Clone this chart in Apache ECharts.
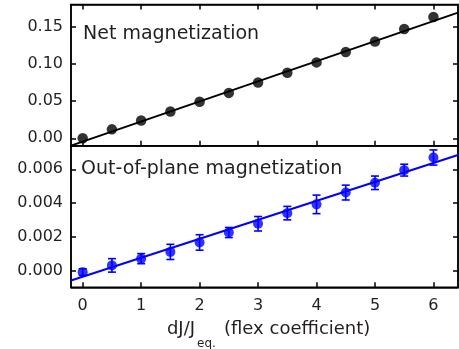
<!DOCTYPE html>
<html>
<head>
<meta charset="utf-8">
<script src="https://cdn.jsdelivr.net/npm/echarts@6/dist/echarts.min.js"></script>
<style>html,body{margin:0;padding:0;background:#fff}#c{width:459px;height:349px}</style>
</head>
<body>
<div id="c"></div>
<script>
// ---- data ----
var xValues = [0, 0.5, 1, 1.5, 2, 2.5, 3, 3.5, 4, 4.5, 5, 5.5, 6];
var netMag = [0, 0.012, 0.024, 0.036, 0.049, 0.061, 0.075, 0.088, 0.102, 0.116, 0.130, 0.147, 0.163];
var oopMag = [-0.0001, 0.0003, 0.0007, 0.0011, 0.00166, 0.00225, 0.00277, 0.0034, 0.00392, 0.00462, 0.0052, 0.00595, 0.0067];
var oopErr = [0.0002, 0.0004, 0.0003, 0.00045, 0.00046, 0.0003, 0.00043, 0.0004, 0.00055, 0.00044, 0.0004, 0.00035, 0.00045];
var netFitX = [-0.2, 6.42];
var netFitY = [-0.0099, 0.169];
var oopFitX = [-0.2, 6.42];
var oopFitY = [-0.0006, 0.00685];
var xTicks = [0, 1, 2, 3, 4, 5, 6];
var netTicks = [0, 0.05, 0.10, 0.15];
var oopTicks = [0, 0.002, 0.004, 0.006];
var topLabel = 'Net magnetization';
var bottomLabel = 'Out-of-plane magnetization';
var xTitleMain = 'dJ/J';
var xTitleSub = 'eq.';
var xTitleRest = '(flex coefficient)';

var FONT = 'DejaVu Sans';
var TXT = '#231f20';
var BLUE = '#0000ff';

function pairs(xs, ys) { return xs.map(function (x, i) { return [x, ys[i]]; }); }

var lineStyleAxis = { color: '#000', width: 1.5 };
function xAx(grid, pos, labels) {
  return {
    type: 'value', gridIndex: grid, position: pos, min: -0.2, max: 6.42,
    axisLine: { show: true, onZero: false, lineStyle: lineStyleAxis },
    axisTick: { show: true, inside: true, length: 5, lineStyle: lineStyleAxis, customValues: xTicks },
    axisLabel: { show: labels, customValues: xTicks, margin: 11, fontFamily: FONT, fontSize: 16, color: TXT,
      formatter: function (v) { return String(v); } },
    splitLine: { show: false }
  };
}
function yAx(grid, pos, labels, min, max, ticks, dec) {
  return {
    type: 'value', gridIndex: grid, position: pos, min: min, max: max,
    axisLine: { show: true, onZero: false, lineStyle: lineStyleAxis },
    axisTick: { show: true, inside: true, length: 5, lineStyle: lineStyleAxis, customValues: ticks },
    axisLabel: { show: labels, customValues: ticks, margin: 8, fontFamily: FONT, fontSize: 16, color: TXT,
      formatter: function (v) { return v.toFixed(dec); } },
    splitLine: { show: false }
  };
}

var errData = xValues.map(function (x, i) { return [x, oopMag[i] - oopErr[i], oopMag[i] + oopErr[i]]; });

var chart = echarts.init(document.getElementById('c'), null, { renderer: 'canvas' });
chart.setOption({
  animation: false,
  backgroundColor: '#fff',
  grid: [
    { left: 71, right: 1, top: 4.4, height: 141.3, show: true, borderColor: '#000', borderWidth: 1.5 },
    { left: 71, right: 1, top: 145.7, height: 141.6, show: true, borderColor: '#000', borderWidth: 1.5 }
  ],
  xAxis: [
    xAx(0, 'bottom', false),
    xAx(0, 'top', false),
    xAx(1, 'bottom', true)
  ],
  yAxis: [
    yAx(0, 'left', true, -0.01, 0.18, netTicks, 2),
    yAx(0, 'right', false, -0.01, 0.18, netTicks, 2),
    yAx(1, 'left', true, -0.001, 0.0074, oopTicks, 3),
    yAx(1, 'right', false, -0.001, 0.0074, oopTicks, 3)
  ],
  series: [
    { type: 'line', xAxisIndex: 0, yAxisIndex: 0, data: pairs(netFitX, netFitY), showSymbol: false,
      lineStyle: { color: '#000', width: 2 }, silent: true, z: 2 },
    { type: 'scatter', xAxisIndex: 0, yAxisIndex: 0, data: pairs(xValues, netMag), symbol: 'circle', symbolSize: 10.5,
      itemStyle: { color: '#000' }, z: 3 },
    { type: 'line', xAxisIndex: 2, yAxisIndex: 2, data: pairs(oopFitX, oopFitY), showSymbol: false,
      lineStyle: { color: BLUE, width: 2 }, silent: true, z: 2 },
    { type: 'custom', xAxisIndex: 2, yAxisIndex: 2, data: errData, encode: { x: 0, y: [1, 2] }, z: 3,
      renderItem: function (params, api) {
        var x = api.value(0), lo = api.value(1), hi = api.value(2);
        var pt = api.coord([x, hi]), pb = api.coord([x, lo]);
        var w = 4;
        var st = { stroke: BLUE, lineWidth: 1.6 };
        return { type: 'group', children: [
          { type: 'line', shape: { x1: pt[0], y1: pt[1], x2: pb[0], y2: pb[1] }, style: st },
          { type: 'line', shape: { x1: pt[0] - w, y1: pt[1], x2: pt[0] + w, y2: pt[1] }, style: st },
          { type: 'line', shape: { x1: pb[0] - w, y1: pb[1], x2: pb[0] + w, y2: pb[1] }, style: st }
        ] };
      } },
    { type: 'scatter', xAxisIndex: 2, yAxisIndex: 2, data: pairs(xValues, oopMag), symbol: 'circle', symbolSize: 10,
      itemStyle: { color: BLUE }, z: 4 }
  ],
  graphic: [
    { type: 'text', left: 83, top: 25, style: { text: topLabel, font: '19px "' + FONT + '"', fill: TXT } },
    { type: 'text', left: 81, top: 160, style: { text: bottomLabel, font: '19px "' + FONT + '"', fill: TXT } },
    { type: 'text', right: 459 - 195, top: 320, style: { text: xTitleMain, font: '18px "' + FONT + '"', fill: TXT } },
    { type: 'text', left: 197, top: 338, style: { text: xTitleSub, font: '12px "' + FONT + '"', fill: TXT } },
    { type: 'text', left: 224, top: 320, style: { text: xTitleRest, font: '18px "' + FONT + '"', fill: TXT } }
  ]
});
</script>
</body>
</html>
